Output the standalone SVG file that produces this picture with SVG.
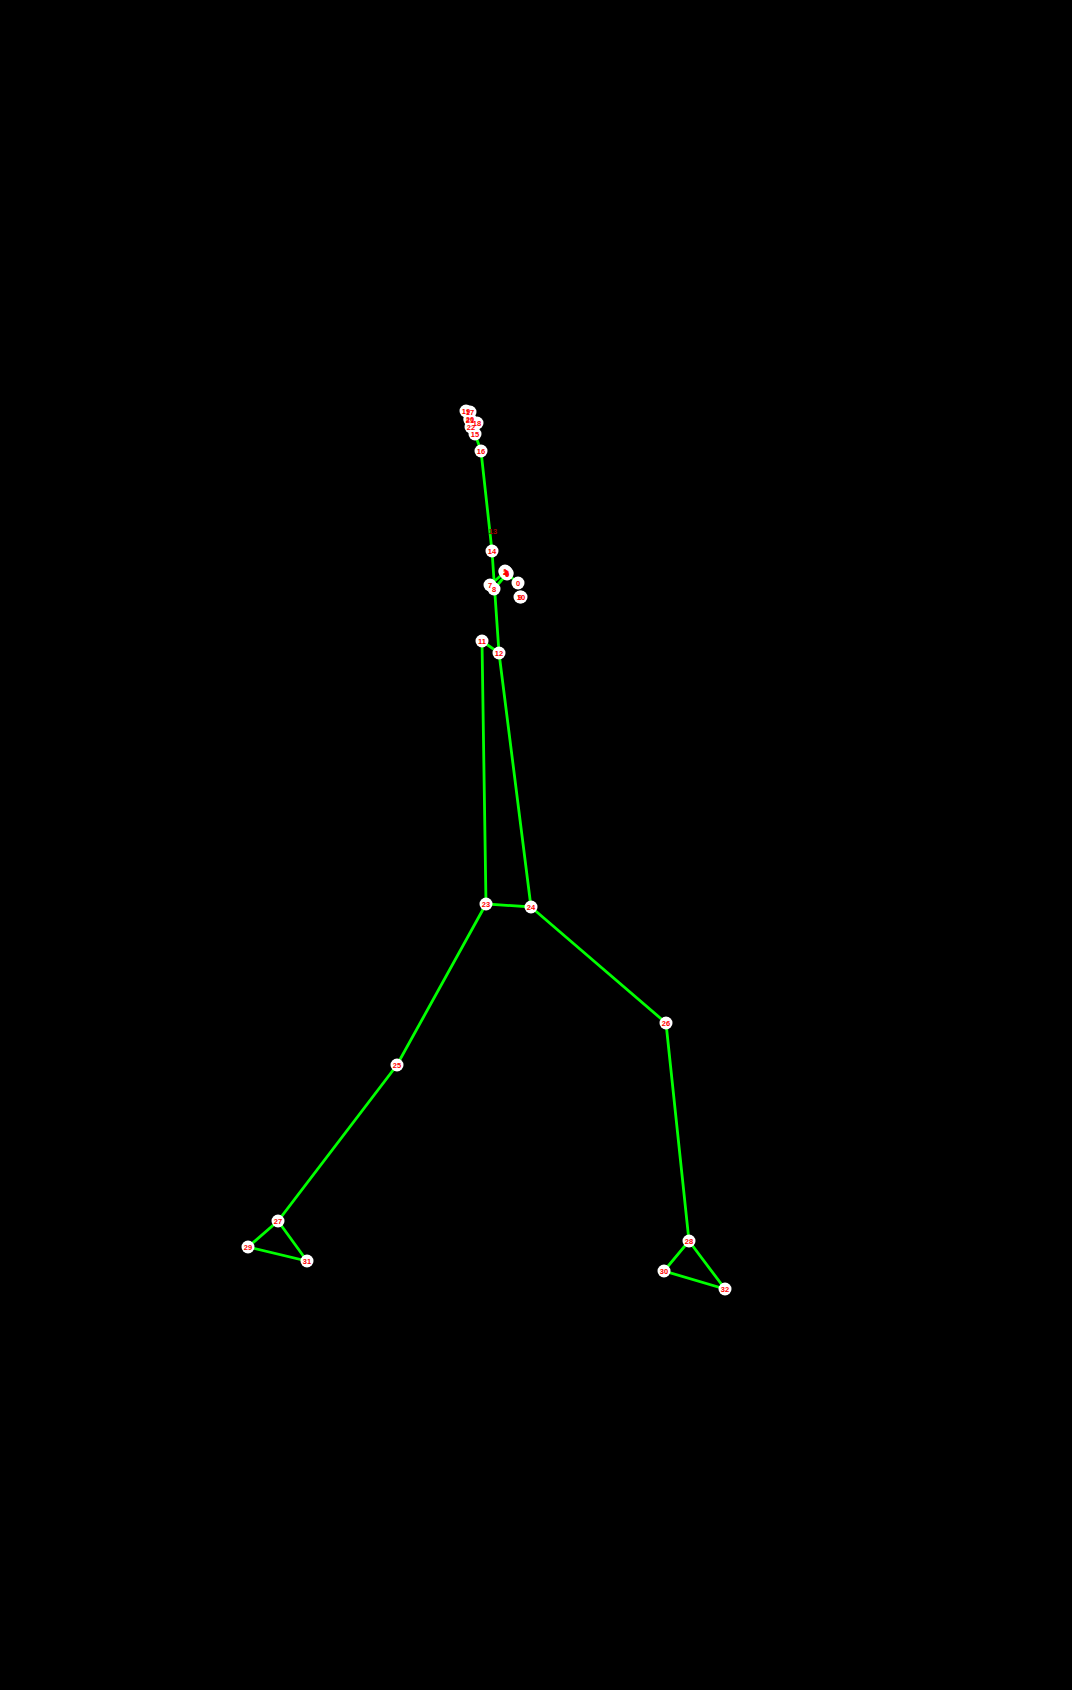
<svg xmlns="http://www.w3.org/2000/svg" width="1072" height="1690" viewBox="0 0 1072 1690">
<style>
.c{fill:none;stroke:#0f0;stroke-width:2.8;stroke-linecap:round}
.n{fill:#fff}
.t{fill:#f00;font:bold 7.5px "Liberation Sans",sans-serif;text-anchor:middle}
.d{fill:#a00000;font:bold 7.5px "Liberation Sans",sans-serif;text-anchor:middle}
</style>
<rect width="1072" height="1690" fill="#000"/>
<g id="connectors" class="c">
<path d="M475 434L481 451L492 551L499 653L482 641L486 904L531 907L499 653"/>
<path d="M486 904L397 1065L278 1221L248 1247L307 1261L278 1221"/>
<path d="M531 907L666 1023L689 1241L664 1271L725 1289L689 1241"/>
<path d="M518 583L506 573M490 585L505 572M494 589L506 575"/>
</g>
<g id="n19"><circle class="n" cx="466" cy="411" r="6.5"/></g>
<g id="n17"><circle class="n" cx="470" cy="412" r="6.5"/></g>
<g id="n18"><circle class="n" cx="477" cy="423" r="6.5"/></g>
<g id="n20"><circle class="n" cx="470" cy="419" r="6.5"/></g>
<g id="n21"><circle class="n" cx="470" cy="420" r="6.5"/></g>
<g id="n22"><circle class="n" cx="471" cy="427" r="6.5"/></g>
<g id="n15"><circle class="n" cx="475" cy="434" r="6.5"/></g>
<g id="n1"><circle class="n" cx="505" cy="571" r="6.5"/></g>
<g id="n2"><circle class="n" cx="505" cy="572" r="6.5"/></g>
<g id="n3"><circle class="n" cx="506" cy="572" r="6.5"/></g>
<g id="n4"><circle class="n" cx="506" cy="573" r="6.5"/></g>
<g id="n5"><circle class="n" cx="507" cy="573" r="6.5"/></g>
<g id="n6"><circle class="n" cx="507" cy="574" r="6.5"/></g>
<g id="n9"><circle class="n" cx="520" cy="597" r="6.5"/></g>
<g id="n10"><circle class="n" cx="521" cy="597" r="6.5"/></g>
<g id="n7"><circle class="n" cx="490" cy="585" r="6.5"/></g>
<g id="n8"><circle class="n" cx="494" cy="589" r="6.5"/></g>
<g id="cluster-labels">
<text class="t" x="466" y="413.5">19</text>
<text class="t" x="470" y="414.5">17</text>
<text class="t" x="477" y="425.5">18</text>
<text class="t" x="470" y="421.5">20</text>
<text class="t" x="470" y="422.5">21</text>
<text class="t" x="471" y="429.5">22</text>
<text class="t" x="475" y="436.5">15</text>
<text class="t" x="505" y="573.5">1</text>
<text class="t" x="505" y="574.5">2</text>
<text class="t" x="506" y="574.5">3</text>
<text class="t" x="506" y="575.5">4</text>
<text class="t" x="507" y="575.5">5</text>
<text class="t" x="507" y="576.5">6</text>
<text class="t" x="520" y="599.5">9</text>
<text class="t" x="521" y="599.5">10</text>
<text class="t" x="490" y="587.5">7</text>
<text class="t" x="494" y="591.5">8</text>
</g>
<g id="n16"><circle class="n" cx="481" cy="451" r="6.5"/><text class="t" x="481" y="453.5">16</text></g>
<g id="n13"><text class="d" x="493" y="533.5">13</text></g>
<g id="n14"><circle class="n" cx="492" cy="551" r="6.5"/><text class="t" x="492" y="553.5">14</text></g>
<g id="n0"><circle class="n" cx="518" cy="583" r="6.5"/><text class="t" x="518" y="585.5">0</text></g>
<g id="n11"><circle class="n" cx="482" cy="641" r="6.5"/><text class="t" x="482" y="643.5">11</text></g>
<g id="n12"><circle class="n" cx="499" cy="653" r="6.5"/><text class="t" x="499" y="655.5">12</text></g>
<g id="n23"><circle class="n" cx="486" cy="904" r="6.5"/><text class="t" x="486" y="906.5">23</text></g>
<g id="n24"><circle class="n" cx="531" cy="907" r="6.5"/><text class="t" x="531" y="909.5">24</text></g>
<g id="n25"><circle class="n" cx="397" cy="1065" r="6.5"/><text class="t" x="397" y="1067.5">25</text></g>
<g id="n26"><circle class="n" cx="666" cy="1023" r="6.5"/><text class="t" x="666" y="1025.5">26</text></g>
<g id="n27"><circle class="n" cx="278" cy="1221" r="6.5"/><text class="t" x="278" y="1223.5">27</text></g>
<g id="n28"><circle class="n" cx="689" cy="1241" r="6.5"/><text class="t" x="689" y="1243.5">28</text></g>
<g id="n29"><circle class="n" cx="248" cy="1247" r="6.5"/><text class="t" x="248" y="1249.5">29</text></g>
<g id="n30"><circle class="n" cx="664" cy="1271" r="6.5"/><text class="t" x="664" y="1273.5">30</text></g>
<g id="n31"><circle class="n" cx="307" cy="1261" r="6.5"/><text class="t" x="307" y="1263.5">31</text></g>
<g id="n32"><circle class="n" cx="725" cy="1289" r="6.5"/><text class="t" x="725" y="1291.5">32</text></g>
</svg>
